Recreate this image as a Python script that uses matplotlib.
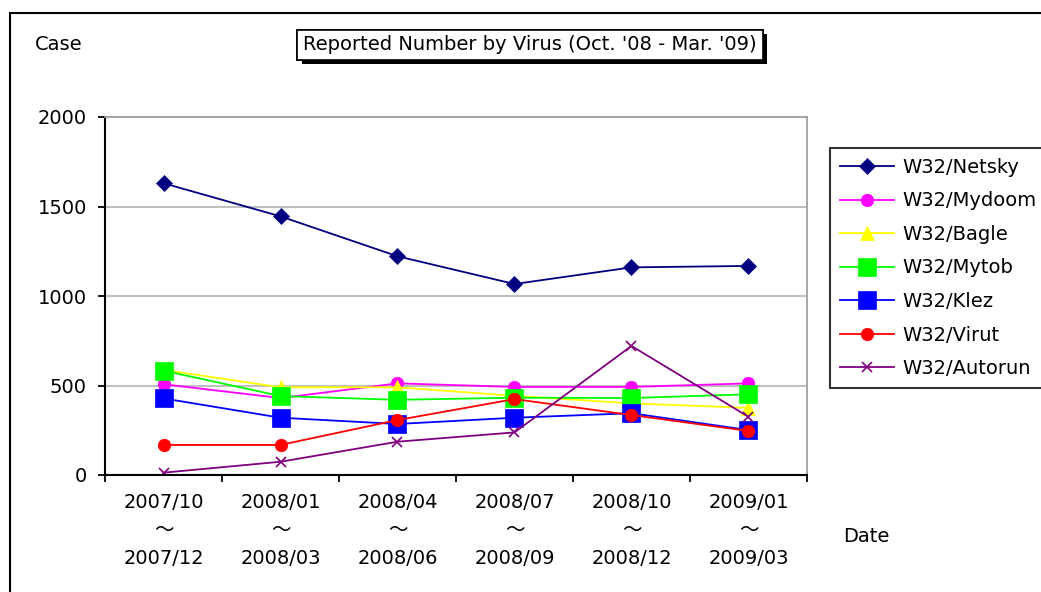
import matplotlib
matplotlib.use("Agg")
import matplotlib.pyplot as plt
import matplotlib.patheffects as pe
from matplotlib.patches import Rectangle

plt.rcParams['font.family'] = ['DejaVu Sans', 'Noto Sans CJK JP']

# data
periods = ["2007/10\n～\n2007/12", "2008/01\n～\n2008/03", "2008/04\n～\n2008/06",
           "2008/07\n～\n2008/09", "2008/10\n～\n2008/12", "2009/01\n～\n2009/03"]
netsky = [1630, 1445, 1222, 1067, 1160, 1168]
mydoom = [507, 430, 512, 492, 492, 512]
bagle = [587, 490, 490, 442, 400, 375]
mytob = [583, 441, 420, 432, 430, 451]
klez = [428, 320, 285, 320, 345, 251]
virut = [168, 168, 307, 424, 335, 246]
autorun = [13, 74, 186, 238, 721, 325]

names = ["W32/Netsky", "W32/Mydoom", "W32/Bagle", "W32/Mytob",
         "W32/Klez", "W32/Virut", "W32/Autorun"]
series = [netsky, mydoom, bagle, mytob, klez, virut, autorun]
colors = ["#000080", "#FF00FF", "#FFFF00", "#00FF00", "#0000FF", "#FF0000", "#800080"]
markers = ["D", "o", "^", "s", "s", "o", "x"]
msizes = [8, 9, 10, 13, 13, 9, 7]

fig = plt.figure(figsize=(10.41, 5.92), dpi=100)
ax = fig.add_axes([105/1041, 1-475/592, (807-105)/1041, (475-117)/592])

x = list(range(len(periods)))
for vals, name, c, m, s in zip(series, names, colors, markers, msizes):
    ax.plot(x, vals, color=c, marker=m, markersize=s, lw=1.3, label=name,
            markeredgecolor=c, markeredgewidth=1.2 if m == "x" else 0.5)

ax.set_xlim(-0.5, 5.5)
ax.set_ylim(0, 2000)
ax.set_yticks([0, 500, 1000, 1500, 2000])
ax.yaxis.grid(True, color="#C0C0C0", lw=1.5)
ax.set_axisbelow(True)
ax.set_xticks(x)
ax.set_xticklabels(periods, fontsize=14, linespacing=1.6)
ax.set_xticks([i - 0.5 for i in range(len(periods) + 1)], minor=True)
ax.tick_params(axis="x", which="major", length=0, pad=13)
ax.tick_params(axis="x", which="minor", length=5, width=1.3, direction="out")
ax.tick_params(axis="y", length=5, width=1.3, direction="out", pad=8, labelsize=14)

for side in ["top", "right"]:
    ax.spines[side].set_color("#A0A0A0")
    ax.spines[side].set_linewidth(1.3)
for side in ["left", "bottom"]:
    ax.spines[side].set_color("black")
    ax.spines[side].set_linewidth(1.5)

# outer chart frame
fig.patches.append(Rectangle((10/1041, -0.1), 1.2, 1 - 13/592 + 0.1,
                             transform=fig.transFigure, fill=False,
                             edgecolor="black", lw=1.5))

t = fig.text(530/1041, 1-45/592, "Reported Number by Virus (Oct. '08 - Mar. '09)",
             ha="center", va="center", fontsize=14,
             bbox=dict(boxstyle="square,pad=0.3", fc="white", ec="black", lw=1.2))
t.get_bbox_patch().set_path_effects([
    pe.withSimplePatchShadow(offset=(3, -3), shadow_rgbFace="black", alpha=1), pe.Normal()])

fig.text(35/1041, 1-44/592, "Case", ha="left", va="center", fontsize=14)
fig.text(843/1041, 1-537/592, "Date", ha="left", va="center", fontsize=14)

leg = fig.legend(loc="upper left", bbox_to_anchor=(830/1041, 1-148/592),
                 fontsize=14, frameon=True, fancybox=False, edgecolor="black",
                 handlelength=2.8, labelspacing=0.75, borderpad=0.5,
                 handletextpad=0.4, borderaxespad=0)
leg.get_frame().set_linewidth(1.5)

fig.savefig("out.png", dpi=100)
